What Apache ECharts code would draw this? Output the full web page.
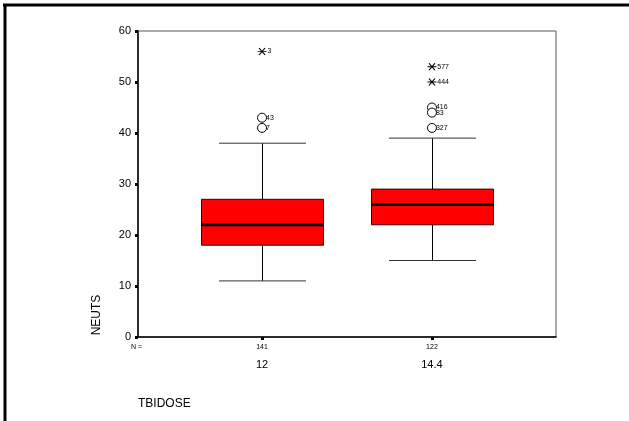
<!DOCTYPE html>
<html><head><meta charset="utf-8">
<script src="https://cdn.jsdelivr.net/npm/echarts@6/dist/echarts.min.js"></script>
<style>html,body{margin:0;padding:0;background:#fff}#c{width:629px;height:421px}</style>
</head><body><div id="c"></div>
<script>
// ---- data ----
var categories = ['12', '14.4'];
var counts = ['141', '122'];
var whiskerLow = [11, 15];
var q1 = [18, 22];
var median = [22, 26];
var q3 = [27, 29];
var whiskerHigh = [38, 39];
var outlierValues = [[43, 41], [45, 44, 41]];
var outlierIds = [['43', '7'], ['416', '83', '327']];
var extremeValues = [[56], [53, 50]];
var extremeIds = [['3'], ['577', '444']];
var yTicks = [0, 10, 20, 30, 40, 50, 60];
var xTitle = 'TBIDOSE';
var yTitle = 'NEUTS';
var countPrefix = 'N =';

// ---- build ----
var FONT = '"Liberation Sans", Arial, sans-serif';
var boxData = categories.map(function (c, i) {
  return [i + 1, whiskerLow[i], q1[i], median[i], q3[i], whiskerHigh[i]];
});
var outData = [], extData = [];
categories.forEach(function (c, i) {
  outlierValues[i].forEach(function (v, j) { outData.push([i + 1, v, outlierIds[i][j]]); });
  extremeValues[i].forEach(function (v, j) { extData.push([i + 1, v, extremeIds[i][j]]); });
});

var chart = echarts.init(document.getElementById('c'), null, {renderer: 'canvas'});
var BOXW = 0.718, CAPW = 0.512;
chart.setOption({
  animation: false,
  backgroundColor: '#fff',
  grid: {left: 138, top: 31, right: 73, bottom: 84, show: true, borderColor: '#555', borderWidth: 1, backgroundColor: 'transparent'},
  xAxis: {
    type: 'value', min: 0.27, max: 2.73,
    splitLine: {show: false},
    axisLine: {show: true, onZero: false, lineStyle: {color: '#000', width: 1.5}},
    axisTick: {show: true, length: 3, customValues: [1, 2], lineStyle: {color: '#000', width: 3}},
    axisLabel: {
      customValues: [1, 2], margin: 5, color: '#000', fontFamily: FONT,
      formatter: function (v) {
        var i = Math.round(v) - 1;
        return '{n|' + counts[i] + '}\n{c|' + categories[i] + '}';
      },
      rich: {
        n: {fontSize: 7, lineHeight: 10, fontFamily: FONT, color: '#000'},
        c: {fontSize: 11, lineHeight: 26, fontFamily: FONT, color: '#000'}
      }
    }
  },
  yAxis: {
    type: 'value', min: 0, max: 60, interval: 10,
    splitLine: {show: false},
    axisLine: {show: true, lineStyle: {color: '#000', width: 1.5}},
    axisTick: {show: true, length: 3, lineStyle: {color: '#000', width: 3}},
    axisLabel: {fontSize: 11, color: '#000', fontFamily: FONT, margin: 7,
      formatter: function (v) { return yTicks.indexOf(v) >= 0 ? String(v) : ''; }}
  },
  graphic: [
    {type: 'line', shape: {x1: 3, y1: 5, x2: 629, y2: 5}, style: {stroke: '#000', lineWidth: 3}},
    {type: 'line', shape: {x1: 5, y1: 4, x2: 5, y2: 421}, style: {stroke: '#000', lineWidth: 3}},
    {type: 'text', x: 97, y: 315, rotation: Math.PI / 2, style: {text: yTitle, font: '12px ' + FONT, fill: '#000', align: 'center', verticalAlign: 'middle'}},
    {type: 'text', x: 138, y: 404, style: {text: xTitle, font: '12px ' + FONT, fill: '#000', align: 'left', verticalAlign: 'middle'}},
    {type: 'text', x: 131, y: 347, style: {text: countPrefix, font: '7px ' + FONT, fill: '#000', align: 'left', verticalAlign: 'middle'}}
  ],
  series: [
    {
      type: 'custom',
      data: boxData,
      encode: {x: 0, y: [1, 2, 3, 4, 5]},
      renderItem: function (params, api) {
        var x = api.value(0);
        var pLo = api.coord([x, api.value(1)]);
        var pQ1 = api.coord([x, api.value(2)]);
        var pMed = api.coord([x, api.value(3)]);
        var pQ3 = api.coord([x, api.value(4)]);
        var pHi = api.coord([x, api.value(5)]);
        var bw = api.size([BOXW, 0])[0];
        var cw = api.size([CAPW, 0])[0];
        var cx = Math.round(pMed[0]) + 0.5;
        return {
          type: 'group',
          children: [
            {type: 'line', shape: {x1: cx, y1: pLo[1], x2: cx, y2: pQ1[1]}, style: {stroke: '#000', lineWidth: 1}},
            {type: 'line', shape: {x1: cx, y1: pQ3[1], x2: cx, y2: pHi[1]}, style: {stroke: '#000', lineWidth: 1}},
            {type: 'line', shape: {x1: cx - cw / 2, y1: pLo[1], x2: cx + cw / 2, y2: pLo[1]}, style: {stroke: '#333', lineWidth: 1}},
            {type: 'line', shape: {x1: cx - cw / 2, y1: pHi[1], x2: cx + cw / 2, y2: pHi[1]}, style: {stroke: '#333', lineWidth: 1}},
            {type: 'rect', shape: {x: cx - bw / 2, y: pQ3[1], width: bw, height: pQ1[1] - pQ3[1]}, style: {fill: '#ff0000', stroke: '#3a0000', lineWidth: 1}},
            {type: 'line', shape: {x1: cx - bw / 2, y1: pMed[1], x2: cx + bw / 2, y2: pMed[1]}, style: {stroke: '#000', lineWidth: 3}}
          ]
        };
      }
    },
    {
      type: 'scatter',
      data: outData,
      symbol: 'circle', symbolSize: 9,
      itemStyle: {color: '#fff', borderColor: '#000', borderWidth: 1, opacity: 1},
      label: {show: true, position: 'right', distance: -1, fontSize: 7, color: '#000', fontFamily: FONT,
        formatter: function (p) { return p.data[2]; }}
    },
    {
      type: 'scatter',
      data: extData,
      symbol: 'path://M-1,-1L1,1M-1,1L1,-1M-1.5,0L1.5,0',
      symbolSize: [9, 7],
      itemStyle: {color: 'none', borderColor: '#000', borderWidth: 1, opacity: 1},
      label: {show: true, position: 'right', distance: -2, fontSize: 7, color: '#000', fontFamily: FONT,
        formatter: function (p) { return p.data[2]; }}
    }
  ]
});
</script>
</body></html>
